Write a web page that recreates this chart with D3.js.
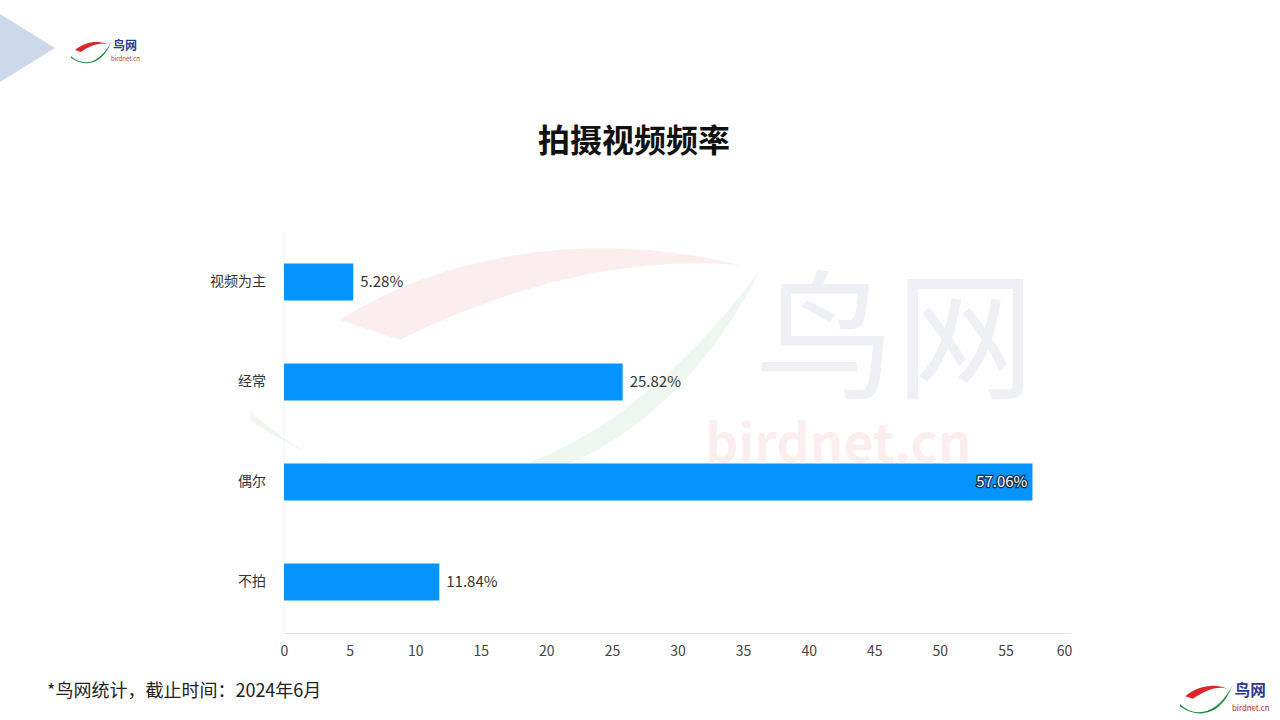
<!DOCTYPE html>
<html lang="zh">
<head>
<meta charset="UTF-8">
<title>拍摄视频频率</title>
<script src="https://d3js.org/d3.v7.min.js"></script>
<style>
    body { margin: 0; background: #fff; }
    text { font-family: "Noto Sans CJK SC", "Noto Sans", sans-serif; }
</style>
</head>
<body>
<div id="chart"></div>
<script>
// data
const categories = ["视频为主", "经常", "偶尔", "不拍"];
const values = [5.28, 25.82, 57.06, 11.84];
const xTicks = [0, 5, 10, 15, 20, 25, 30, 35, 40, 45, 50, 55, 60];
const insideLabel = [false, false, true, false];

const width = 1280, height = 720;
const svg = d3.select("#chart").append("svg")
    .attr("width", width)
    .attr("height", height);

// top-left triangle
svg.append("path")
    .attr("d", "M0,14 L55,48 L0,82 Z")
    .attr("fill", "#cdd8eb");

// small logo drawing
function logo(g, s) {
    g.append("path")
        .attr("d", "M4,14 C14,6 26,4 36,8 C28,6 18,10 10,16 Z")
        .attr("fill", "#d9262b");
    g.append("path")
        .attr("d", "M0,20 C10,30 28,30 40,6 C34,24 18,34 0,22 Z")
        .attr("fill", "#1b8a3c");
    g.append("text").attr("x", 42).attr("y", 14)
        .attr("font-size", 12).attr("font-weight", "bold").attr("fill", "#2a3a8c").text("鸟网");
    g.append("text").attr("x", 40).attr("y", 25)
        .attr("font-size", 6).attr("fill", "#b42a2a").text("birdnet.cn");
    g.attr("transform", s);
}
logo(svg.append("g"), "translate(71,36)");
logo(svg.append("g"), "translate(1180,678) scale(1.3)");

// watermark
const wm = svg.append("g").attr("opacity", 0.07);
wm.append("path")
    .attr("d", "M340,320 C450,250 600,230 740,265 C620,255 500,290 400,340 Z")
    .attr("fill", "#d9262b");
wm.append("path")
    .attr("d", "M250,410 C350,510 560,540 760,270 C660,470 460,560 250,420 Z")
    .attr("fill", "#1b8a3c");
wm.append("text").attr("x", 755).attr("y", 388)
    .attr("font-size", 140).attr("fill", "#2a3a8c").text("鸟网");
wm.append("text").attr("x", 705).attr("y", 462)
    .attr("font-size", 52).attr("font-weight", "bold")
    .attr("font-family", "'Liberation Sans', sans-serif")
    .attr("fill", "#d9262b").text("birdnet.cn");

// title
svg.append("text")
    .attr("x", 634).attr("y", 152)
    .attr("text-anchor", "middle")
    .attr("font-size", 32).attr("font-weight", "bold")
    .attr("fill", "#111")
    .text("拍摄视频频率");

// scales
const x = d3.scaleLinear().domain([0, 60]).range([284, 1071]);
const y = d3.scaleBand().domain(categories).range([232, 632]).paddingInner(0.63).paddingOuter(0.315);

// axes
const xAxis = d3.axisBottom(x).tickValues(xTicks).tickSize(0).tickPadding(13);
const gx = svg.append("g").attr("transform", "translate(0,633)").call(xAxis);
gx.select(".domain").attr("stroke", "#dde3f0");
gx.selectAll("text").attr("font-size", 14).attr("fill", "#444")
    .attr("font-family", "'Open Sans', 'Noto Sans', sans-serif");
gx.selectAll(".tick").filter(d => d === 60).select("text").attr("dx", -7);

const yAxis = d3.axisLeft(y).tickSize(0).tickPadding(18);
const gy = svg.append("g").attr("transform", "translate(284,0)").call(yAxis);
gy.select(".domain").attr("stroke", "#eef1f7").attr("d", "M0,232V633");
gy.selectAll("text").attr("font-size", 14).attr("fill", "#333");

// bars
svg.selectAll("rect.bar")
    .data(values)
    .enter().append("rect")
    .attr("class", "bar")
    .attr("x", x(0))
    .attr("y", (d, i) => y(categories[i]))
    .attr("width", d => x(d) - x(0))
    .attr("height", y.bandwidth())
    .attr("fill", "#0594fd");

// value labels
svg.selectAll("text.val")
    .data(values)
    .enter().append("text")
    .attr("class", "val")
    .attr("x", (d, i) => insideLabel[i] ? x(d) - 5 : x(d) + 7)
    .attr("y", (d, i) => y(categories[i]) + y.bandwidth() / 2)
    .attr("dy", "0.35em")
    .attr("text-anchor", (d, i) => insideLabel[i] ? "end" : "start")
    .attr("font-size", 15)
    .attr("font-family", "'Open Sans', 'Noto Sans', sans-serif")
    .attr("fill", (d, i) => insideLabel[i] ? "#fff" : "#333")
    .attr("stroke", (d, i) => insideLabel[i] ? "#1a2a44" : "none")
    .attr("stroke-width", 2.5)
    .attr("paint-order", "stroke")
    .text(d => d.toFixed(2) + "%");

// footnote
svg.append("text")
    .attr("x", 47).attr("y", 697)
    .attr("font-size", 18).attr("fill", "#222")
    .text("*鸟网统计，截止时间：2024年6月");
</script>
</body>
</html>
